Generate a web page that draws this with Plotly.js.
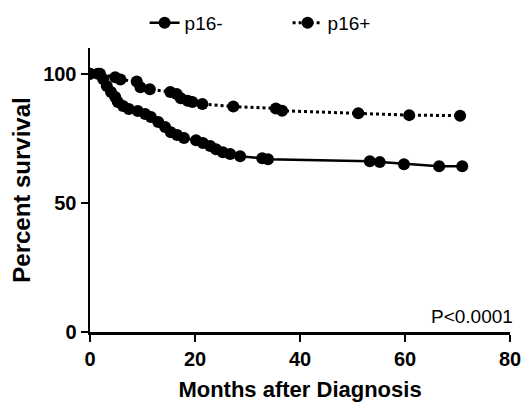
<!DOCTYPE html>
<html>
<head>
<meta charset="utf-8">
<script src="https://cdn.plot.ly/plotly-3.0.1.min.js"></script>
<style>html,body{margin:0;padding:0;background:#fff;}#chart{width:527px;height:402px;}</style>
</head>
<body>
<div id="chart"></div>
<script>
// p16- (solid line)
var negMonths = [0, 1.9, 2.5, 3.2, 4.0, 4.8, 5.3, 6.3, 7.4, 9.1, 10.5, 11.6, 13.0, 14.3, 15.4, 16.6, 17.9, 20.2, 21.5, 22.9, 24.0, 25.3, 26.7, 28.6, 32.8, 33.9, 53.3, 55.2, 59.8, 66.5, 70.9];
var negSurvival = [100, 100, 98, 95.3, 93, 91, 89.1, 87.5, 86.4, 85.6, 84.4, 83.3, 81.3, 79.4, 77.4, 76.3, 75.1, 74.3, 73.2, 72.0, 70.8, 69.6, 68.9, 68.1, 67.3, 66.9, 66.1, 65.8, 65.0, 64.2, 64.2];
// p16+ (dotted line)
var posMonths = [0, 1.5, 4.8, 5.8, 8.9, 9.6, 11.4, 15.3, 16.5, 17.3, 18.6, 19.5, 21.4, 27.3, 35.4, 36.6, 51.1, 60.8, 70.5];
var posSurvival = [100, 100, 98.7, 97.8, 97, 94.8, 94, 93, 92.2, 90.5, 89.6, 89.1, 88.3, 87.3, 86.6, 85.7, 84.7, 84.0, 83.8];

var xTicks = [0, 20, 40, 60, 80];
var yTicks = [0, 50, 100];
var seriesNames = ['p16-', 'p16+'];
var pValueText = 'P<0.0001';

var traces = [
  {x: negMonths, y: negSurvival, name: seriesNames[0], type: 'scatter', mode: 'lines+markers',
   line: {color: '#000', width: 2.5, dash: 'solid'}, marker: {color: '#000', size: 12}},
  {x: posMonths, y: posSurvival, name: seriesNames[1], type: 'scatter', mode: 'lines+markers',
   line: {color: '#000', width: 3, dash: 'dot'}, marker: {color: '#000', size: 12}}
];

var FAM = 'Liberation Sans, Arial, sans-serif';
var tickFont = {family: FAM, size: 20, color: '#000', weight: 'bold'};

var layout = {
  width: 527, height: 402,
  margin: {l: 90, r: 17, t: 48, b: 70, autoexpand: false},
  paper_bgcolor: '#fff', plot_bgcolor: '#fff',
  showlegend: true,
  legend: {orientation: 'h', x: 0.13, xanchor: 'left', y: 1.088, yanchor: 'middle',
           font: {family: FAM, size: 19, color: '#000'},
           entrywidth: 98, entrywidthmode: 'pixels', bgcolor: 'rgba(0,0,0,0)'},
  xaxis: {range: [0, 80], tickvals: xTicks, ticktext: xTicks.map(String), showgrid: false, zeroline: false,
          showline: true, linecolor: '#000', linewidth: 2.5, ticks: 'outside', ticklen: 7, tickwidth: 2.5, tickcolor: '#000',
          tickfont: tickFont, automargin: false,
          title: {text: 'Months after Diagnosis', font: {family: FAM, size: 22, color: '#000', weight: 'bold'}, standoff: 21}},
  yaxis: {range: [0, 110], tickvals: yTicks, ticktext: yTicks.map(String), showgrid: false, zeroline: false,
          showline: true, linecolor: '#000', linewidth: 2.5, ticks: 'outside', ticklen: 7, tickwidth: 2.5, tickcolor: '#000',
          tickfont: tickFont, automargin: false,
          title: {text: 'Percent survival', font: {family: FAM, size: 24, color: '#000', weight: 'bold'}, standoff: 6}},
  annotations: [{text: pValueText, xref: 'paper', yref: 'paper', x: 1.012, y: 0.056, xanchor: 'right', yanchor: 'middle',
                 showarrow: false, font: {family: FAM, size: 19, color: '#000'}}]
};

Plotly.newPlot('chart', traces, layout, {displayModeBar: false, staticPlot: true});
</script>
</body>
</html>
